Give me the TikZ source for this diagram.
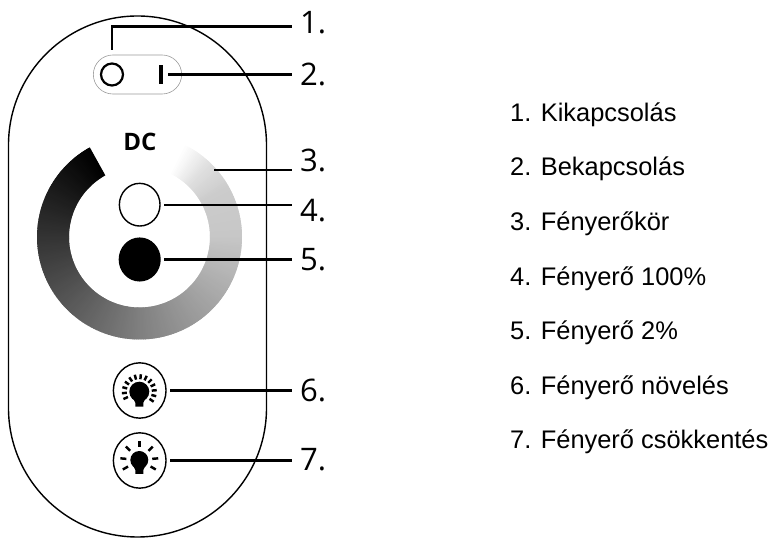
\documentclass[tikz,border=0pt]{standalone}
\usepackage{fontspec}
\setmainfont{Liberation Sans}
\newfontfamily\numfont{Open Sans}
\usetikzlibrary{positioning}
\usetikzlibrary{shapes.geometric}
\newcommand\bulblamp[3]{%
        \fill (#1,#2) circle (#3); %%
        \fill (#1-6,#2-#3+3) -- (#1+6,#2-#3+3) -- (#1+4,#2-#3-1) -- (#1+4,#2-#3-5) -- (#1-4,#2-#3-5) -- (#1-4,#2-#3-1) -- cycle; %%
}
\tikzset{
  leader/.style={line width=2pt},
  numlabel/.style={font=\numfont\fontsize{26.5}{30}\selectfont,anchor=west,inner sep=0pt},
  legendline/.style={font=\fontsize{21.7}{26}\selectfont,anchor=base west,inner sep=0pt},
  pressbutton/.style={shape=ellipse,draw,line width=1.2pt,minimum width=1.58cm,minimum height=1.66cm,inner sep=0pt},
  dotbutton/.style={shape=ellipse,draw,line width=1.2pt,minimum width=1.22cm,minimum height=1.28cm,inner sep=0pt}
}
\begin{document}
\begin{tikzpicture}[x=0.03cm,y=0.03cm]%
        \useasboundingbox (0,0) rectangle (770,538); %%
        %\draw[step=10,color=gray,very thin] (0,0) grid (770,538);%%
        % ring
        \foreach \a in {0,...,303} {%
          \pgfmathsetmacro\lev{\a<151 ? \a/151*50 : (\a<241 ? 50+(\a-151)/90*28 : (\a<270 ? 78+(\a-241)/29*2 : (\a<286 ? 80+(\a-270)/16*7 : 87+(\a-286)/18*13)))}%
          \pgfmathsetmacro\blk{100-\lev}%
          \fill[black!\blk] ({139.5+70.5*cos(119+\a)},{301+70.5*sin(119+\a)}) -- ({139.5+102.5*cos(119+\a)},{301+102.5*sin(119+\a)}) arc ({119+\a}:{119+\a+1.6}:102.5) -- ({139.5+70.5*cos(119+\a+1.6)},{301+70.5*sin(119+\a+1.6)}) arc ({119+\a+1.6}:{119+\a}:70.5) -- cycle; %%
        }
        % body
        \draw[line width=1.2pt] (8.5,130) -- (8.5,393) arc (180:0:129) -- (266.5,130) arc (0:-180:129) -- cycle; %%
        \node[draw=gray!80,line width=.5pt,minimum width=2.65cm,minimum height=1.17cm,rounded corners=.585cm] (switch) at (137.5,463.5) {}; %%
        \node[shape=circle,draw,line width=1.9pt,minimum size=.66cm,inner sep=0pt] (off) at (112,463.5) {}; %%
        \node[fill,minimum width=.13cm,minimum height=.57cm,inner sep=0pt] (on) at (161,463.5) {}; %%
        \node[font=\numfont\bfseries\fontsize{20.5}{22}\selectfont] (dc) at (140,396.5) {DC}; %%
        \node[dotbutton] (full) at (139.7,333.3) {}; %%
        \node[dotbutton,fill] (low) at (139.7,278.5) {}; %%
        \node[pressbutton] (up) at (139.7,147.5) {}; %%
        \node[pressbutton] (down) at (139.7,77.5) {}; %%
        % lamps
        \bulblamp{139.3}{146.3}{10}
        \bulblamp{139.3}{78}{9}
        \foreach \r in {-35,-15,...,215} {%
          \draw[line width=2.1pt] (139.3,146.3)+(\r:12.5) -- +(\r:17.5); %%
        }
        \foreach \r in {-30,5,45,90,135,175,210} {%
          \draw[line width=2.1pt] (139.3,78)+(\r:13) -- +(\r:19); %%
        }
        % labels
        \node[numlabel] (n1) at (300,515) {1.}; %%
        \node[numlabel] (n2) at (300,463.5) {2.}; %%
        \node[numlabel] (n3) at (300,378) {3.}; %%
        \node[numlabel] (n4) at (300,327) {4.}; %%
        \node[numlabel] (n5) at (300,278) {5.}; %%
        \node[numlabel] (n6) at (300,147.5) {6.}; %%
        \node[numlabel] (n7) at (300,78) {7.}; %%
        \node[legendline] (t1) at (510,416.3) {1. Kikapcsolás}; %%
        \node[legendline] (t2) at (510,362) {2. Bekapcsolás}; %%
        \node[legendline] (t3) at (510,307.5) {3. Fényerőkör}; %%
        \node[legendline] (t4) at (510,252.5) {4. Fényerő 100\%}; %%
        \node[legendline] (t5) at (510,198) {5. Fényerő 2\%}; %%
        \node[legendline] (t6) at (510,143) {6. Fényerő növelés}; %%
        \node[legendline] (t7) at (510,89) {7. Fényerő csökkentés}; %%
        % leaders
        \coordinate (p1) at (112,488); %%
        \coordinate (k1) at (112,511.5); %%
        \coordinate (p3) at (214,368); %%
        \coordinate (e1) at (292,511.5); %%
        \coordinate (e3) at (292,368); %%
        \coordinate (e2) at (292,463.5); %%
        \coordinate (e4) at (292,333.3); %%
        \coordinate (e5) at (292,278.5); %%
        \coordinate (e6) at (292,147.5); %%
        \coordinate (e7) at (292,77.5); %%
        \draw[leader] (p1) -- (k1) -- (e1); %%
        \draw[leader] ([xshift=.15cm]on.east) -- (e2); %%
        \draw[leader] (p3) -- (e3); %%
        \draw[leader] ([xshift=.1cm]full.east) -- (e4); %%
        \draw[leader] ([xshift=.1cm]low.east) -- (e5); %%
        \draw[leader] ([xshift=.1cm]up.east) -- (e6); %%
        \draw[leader] ([xshift=.1cm]down.east) -- (e7); %%
\end{tikzpicture}
\end{document}
